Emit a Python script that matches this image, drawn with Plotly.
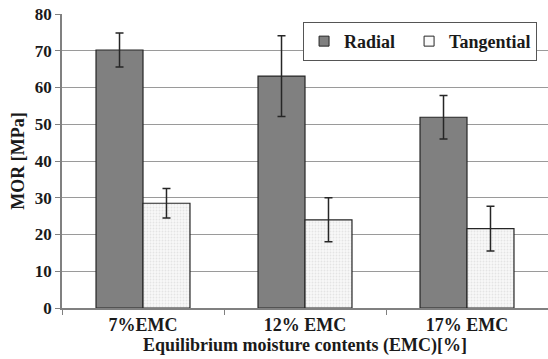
import plotly.graph_objects as go

categories = ["7%EMC", "12% EMC", "17% EMC"]
radial = [70.2, 63.1, 51.9]
radial_err = [4.6, 11.0, 5.9]
tangential = [28.5, 24.0, 21.6]
tangential_err = [4.0, 6.0, 6.1]
y_ticks = [0, 10, 20, 30, 40, 50, 60, 70, 80]

font_family = "Liberation Serif, Times New Roman, serif"
dark = "#262626"

fig = go.Figure()
fig.add_trace(go.Bar(
    name="Radial", x=categories, y=radial, showlegend=False,
    marker=dict(color="#808080", line=dict(color=dark, width=1.2)),
    error_y=dict(type="data", array=radial_err, color=dark, thickness=1.5, width=4),
))
fig.add_trace(go.Bar(
    name="Tangential", x=categories, y=tangential, showlegend=False,
    marker=dict(color="#f4f4f4", line=dict(color=dark, width=1.2),
                pattern=dict(shape=".", fgcolor="#d0d0d0", bgcolor="#f8f8f8", size=3, solidity=0.3)),
    error_y=dict(type="data", array=tangential_err, color=dark, thickness=1.5, width=4),
))
# legend-only entries with small square symbols
fig.add_trace(go.Scatter(
    name="<b>Radial</b>&nbsp;&nbsp;", x=[None], y=[None], mode="markers",
    marker=dict(symbol="square", size=10, color="#808080", line=dict(color=dark, width=1)),
))
fig.add_trace(go.Scatter(
    name="<b>Tangential</b>", x=[None], y=[None], mode="markers",
    marker=dict(symbol="square", size=10, color="#fafafa", line=dict(color=dark, width=1)),
))

fig.update_layout(
    width=548, height=359,
    margin=dict(l=62, r=0, t=14, b=51, autoexpand=False),
    paper_bgcolor="white", plot_bgcolor="white",
    barmode="group", bargap=0.42, bargroupgap=0,
    font=dict(family=font_family, size=15, color="#1a1a1a"),
    showlegend=True,
    legend=dict(
        orientation="h", x=0.496, y=0.973, xanchor="left", yanchor="top",
        bordercolor="#555555", borderwidth=1, bgcolor="white",
        font=dict(family=font_family, size=18, color="#1a1a1a"),
        itemwidth=30, traceorder="normal",
    ),
    xaxis=dict(
        tickmode="array", tickvals=categories,
        ticktext=["<b>" + c + "</b>" for c in categories],
        showline=True, linecolor="#808080", linewidth=1.5,
        ticks="outside", tickson="boundaries", ticklen=5, tickcolor="#808080",
        tickfont=dict(family=font_family, size=18, color="#1a1a1a"),
        title=dict(text="<b>Equilibrium moisture contents (EMC)[%]</b>", standoff=1,
                   font=dict(family=font_family, size=18, color="#1a1a1a")),
    ),
    yaxis=dict(
        range=[0, 80], tickmode="array", tickvals=y_ticks,
        ticktext=["<b>%d</b>" % v for v in y_ticks],
        showline=True, linecolor="#808080", linewidth=1.5,
        ticks="outside", ticklen=5, tickcolor="#808080",
        showgrid=True, gridcolor="#9a9a9a", gridwidth=1.2,
        zeroline=False,
        tickfont=dict(family=font_family, size=17, color="#1a1a1a"),
        title=dict(text="<b>MOR [MPa]</b>", standoff=6,
                   font=dict(family=font_family, size=18, color="#1a1a1a")),
    ),
)

fig.write_html("out.html")
